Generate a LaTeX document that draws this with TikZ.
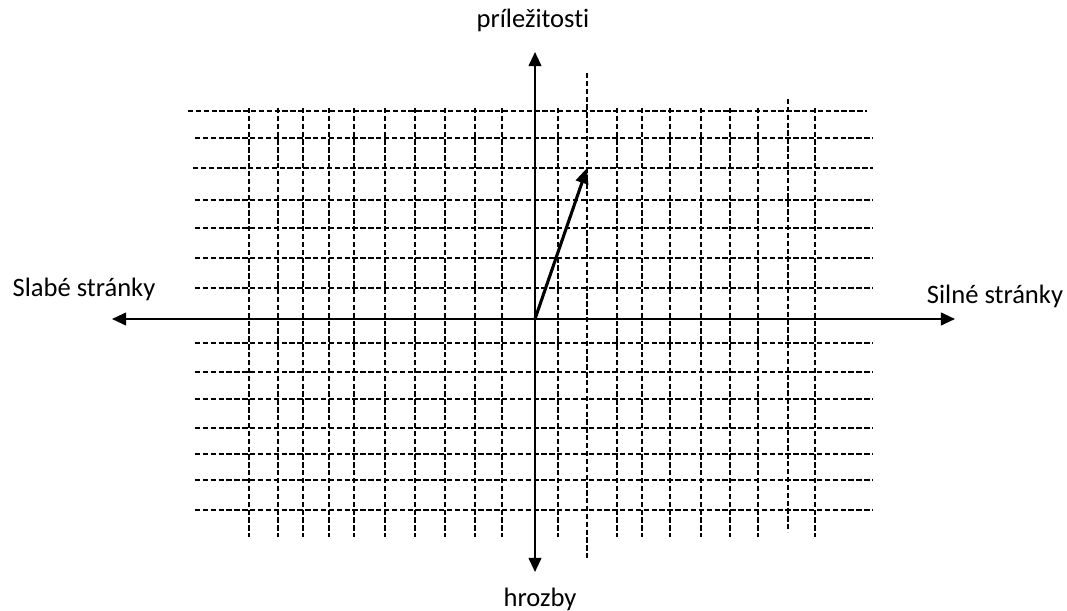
\documentclass[tikz,border=0pt]{standalone}
\usepackage{fontspec}
\setmainfont[Ligatures=NoCommon]{Carlito}
\usepackage{tikz}
\usetikzlibrary{arrows.meta,positioning}

\begin{document}
\begin{tikzpicture}[
    gridline/.style={black,line width=0.95pt,dash pattern=on 3.8pt off 1.8pt},
    markline/.style={gridline,line width=1.4pt},
    axisline/.style={black,line width=1.5pt,-{Triangle[width=9pt,length=10pt]}},
    vecline/.style={black,line width=2.2pt,-{Triangle[width=9pt,length=11pt]}},
    axislabel/.style={font=\fontsize{18.9pt}{22pt}\selectfont}]
    \useasboundingbox (-13.375,-7.3) rectangle (13.3,7.975);
    % mriezka
    \foreach \y in {4.525,2.975,2.275,1.525,0.775,-0.6,-1.325,-2.0,-2.725,-3.375,-4.025,-4.775}
        \draw[gridline] (-8.5,\y) -- (8.45,\y);
    \draw[gridline] (-8.675,5.2) -- (8.3,5.2);
    \draw[markline] (-8.55,3.775) -- (8.45,3.775);
    \foreach \x in {-7.15,-6.425,-5.8,-5.15,-4.525,-3.75,-3.0,-2.25,-1.5,-0.825,0.575,2.05,2.675,3.375,4.15,4.875,5.575,7.0}
        \draw[gridline] (\x,5.275) -- (\x,-5.45);
    \draw[gridline] (6.325,5.5) -- (6.325,-5.325);
    \draw[markline] (1.3,6.15) -- (1.3,-5.975);
    % osi
    \coordinate (O) at (0,0);
    \coordinate (W) at (-10.575,0);
    \coordinate (E) at (10.5,0);
    \coordinate (N) at (0,6.675);
    \coordinate (S) at (0,-6.325);
    \coordinate (P) at (1.3,3.775);
    \draw[axisline] (O) -- (W);
    \draw[axisline] (O) -- (E);
    \draw[axisline] (O) -- (N);
    \draw[axisline] (O) -- (S);
    \draw[vecline] (O) -- (P);
    % popisy
    \node[axislabel] (prilezitosti) at (-0.05,7.475) {príležitosti};
    \node[axislabel] (hrozby) at (0.125,-7.0) {hrozby};
    \node[axislabel] (slabe) at (-11.275,0.75) {Slabé stránky};
    \node[axislabel] (silne) at (11.5,0.575) {Silné stránky};
\end{tikzpicture}
\end{document}
